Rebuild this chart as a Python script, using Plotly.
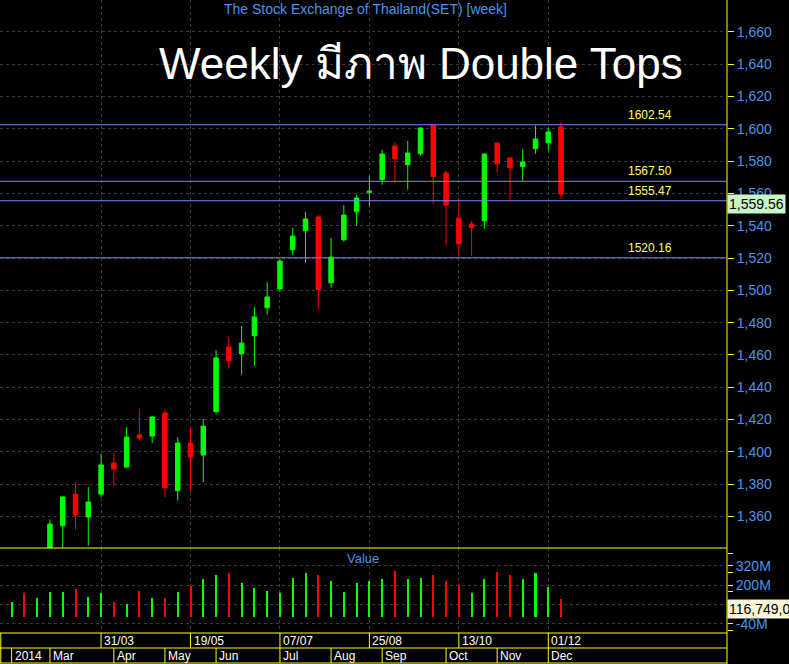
import plotly.graph_objects as go

# ---------------- data ----------------
weeks = ['2014-02-10', '2014-02-17', '2014-02-24', '2014-03-03', '2014-03-10', '2014-03-17',
         '2014-03-24', '2014-03-31', '2014-04-07', '2014-04-14', '2014-04-21', '2014-04-28',
         '2014-05-05', '2014-05-12', '2014-05-19', '2014-05-26', '2014-06-02', '2014-06-09',
         '2014-06-16', '2014-06-23', '2014-06-30', '2014-07-07', '2014-07-14', '2014-07-21',
         '2014-07-28', '2014-08-04', '2014-08-11', '2014-08-18', '2014-08-25', '2014-09-01',
         '2014-09-08', '2014-09-15', '2014-09-22', '2014-09-29', '2014-10-06', '2014-10-13',
         '2014-10-20', '2014-10-27', '2014-11-03', '2014-11-10', '2014-11-17', '2014-11-24',
         '2014-12-01', '2014-12-08']

opens = [1295, 1322, 1312, 1332, 1354.2, 1373.8, 1359.6, 1373.8, 1393.0, 1390.5, 1410.4, 1409.7,
         1424.0, 1375.9, 1405.4, 1398.0, 1424.8, 1464.9, 1460.7, 1471.9, 1489.2, 1500.8, 1525.1,
         1536.9, 1545.4, 1504.7, 1531.3, 1548.7, 1560.5, 1568.5, 1589.4, 1577.8, 1584.6, 1602.0,
         1572.7, 1544.8, 1541.1, 1543.1, 1591.2, 1581.9, 1576.6, 1587.7, 1591.4, 1601.2]
highs = [1318, 1328, 1338, 1358.1, 1372.5, 1381.1, 1378.1, 1398.6, 1399.2, 1415.3, 1426.5, 1422.1,
         1426.5, 1409.1, 1415.3, 1420.3, 1463.0, 1471.1, 1477.9, 1489.6, 1505.1, 1519.2, 1538.6,
         1548.5, 1546.6, 1532.4, 1552.8, 1559.0, 1571.0, 1586.9, 1591.9, 1592.5, 1601.0, 1602.54,
         1574.3, 1556.7, 1542.9, 1584.6, 1591.5, 1582.6, 1587.5, 1602.0, 1600.5, 1604.2]
lows = [1290, 1300, 1308, 1328, 1338, 1351.7, 1341.8, 1371.8, 1378.8, 1389.9, 1406.6, 1405.4,
        1372.0, 1369.7, 1375.9, 1381.2, 1423.6, 1451.4, 1447.7, 1453.3, 1484.9, 1499.0, 1522.0,
        1517.1, 1488.0, 1501.6, 1530.1, 1540.0, 1551.8, 1565.4, 1566.6, 1562.3, 1583.4, 1553.6,
        1528.2, 1520.16, 1521.4, 1538.2, 1572.8, 1556.1, 1567.9, 1584.6, 1586.5, 1556.7]
closes = [1312, 1305, 1333, 1355.2, 1372.0, 1360.8, 1368.9, 1391.8, 1389.3, 1409.1, 1408.5, 1421.5,
          1377.7, 1405.4, 1396.7, 1415.9, 1458.1, 1456.4, 1467.3, 1483.5, 1495.8, 1518.1, 1533.6,
          1544.2, 1500.4, 1520.6, 1546.6, 1557.2, 1561.5, 1584.4, 1581.5, 1585.0, 1600.5, 1570.4,
          1552.8, 1528.9, 1538.8, 1584.4, 1578.4, 1575.9, 1579.5, 1593.7, 1598.1, 1559.56]

value_m = [97, 154, 122, 160, 160, 179, 128, 154, 97, 84, 166, 122, 122, 160, 198, 242, 267, 274,
           217, 185, 166, 154, 248, 274, 267, 229, 160, 217, 229, 236, 286, 236, 248, 267, 229, 204,
           154, 242, 280, 267, 236, 274, 192, 116.749]

levels = [1602.54, 1567.50, 1555.47, 1520.16]
level_labels = ['1602.54', '1567.50', '1555.47', '1520.16']

grid_dates = ['2014-03-31', '2014-05-19', '2014-07-07', '2014-08-25', '2014-10-13', '2014-12-01']
grid_labels = ['31/03', '19/05', '07/07', '25/08', '13/10', '01/12']
month_dates = ['2014-02-10', '2014-03-03', '2014-04-07', '2014-05-05', '2014-06-02', '2014-07-07',
               '2014-08-04', '2014-09-01', '2014-10-06', '2014-11-03', '2014-12-01']
month_labels = ['2014', 'Mar', 'Apr', 'May', 'Jun', 'Jul', 'Aug', 'Sep', 'Oct', 'Nov', 'Dec']

price_ticks = list(range(1360, 1661, 20))
value_ticks_m = [320, 200, 80, -40]
value_tick_text = ['320M', '200M', '', '-40M']
value_minor_m = [400, 280, 160, 40, 0, -80]
last_price_text = '1,559.56'
last_value_text = '116,749,0'

# ---------------- styling ----------------
W, H = 789, 664
AX_X = 727 / W
P_BOT = 1 - 548 / H
V_BOT = 1 - 633 / H
R1_BOT = 1 - 648 / H
R2_BOT = 1 - 663 / H
GREEN = '#00ff00'
RED = '#ff0000'
YELLOW = '#ffff00'
BLUE_TXT = '#4d94e6'
GRID = '#3a3a3a'
FONT = 'Liberation Sans, Arial, sans-serif'
X_RANGE = ['2014-02-03 15:00', '2015-03-08 22:00']

vol_colors = [GREEN] + [GREEN if closes[i] >= closes[i - 1] else RED for i in range(1, len(closes))]

fig = go.Figure()
fig.add_trace(go.Candlestick(
    x=weeks, open=opens, high=highs, low=lows, close=closes,
    increasing=dict(line=dict(color=GREEN, width=1), fillcolor=GREEN),
    decreasing=dict(line=dict(color=RED, width=1), fillcolor=RED),
    whiskerwidth=0, xaxis='x', yaxis='y', hoverinfo='skip'))
fig.add_trace(go.Bar(
    x=weeks, y=[v * 1e6 for v in value_m], width=95e6,
    marker=dict(color=vol_colors, line=dict(width=0)),
    xaxis='x2', yaxis='y2', hoverinfo='skip'))

common_x = dict(type='date', range=X_RANGE, domain=[0, AX_X], showgrid=True,
                gridcolor=GRID, griddash='3px,3px', gridwidth=1,
                tickmode='array', tickvals=grid_dates, showticklabels=False,
                ticks='', zeroline=False, showline=False, fixedrange=True)

fig.update_layout(
    width=W, height=H, margin=dict(l=0, r=0, t=0, b=0),
    paper_bgcolor='#000000', plot_bgcolor='#000000',
    showlegend=False, boxgap=0.5, bargap=0,
    xaxis=dict(**common_x, anchor='y', rangeslider=dict(visible=False)),
    xaxis2=dict(**common_x, anchor='y2', matches='x'),
    yaxis=dict(domain=[P_BOT, 1], range=[1340.4, 1679.8], side='right', anchor='x',
               tickmode='array', tickvals=price_ticks, tickformat=',',
               ticks='outside', ticklen=6, tickcolor=YELLOW, tickwidth=1,
               tickfont=dict(family=FONT, size=14, color=BLUE_TXT),
               showgrid=True, gridcolor=GRID, griddash='3px,3px', zeroline=False, showline=False),
    yaxis2=dict(domain=[V_BOT, P_BOT], range=[-96.8e6, 431.8e6], side='right', anchor='x2',
                tickmode='array', tickvals=[v * 1e6 for v in value_ticks_m], ticktext=value_tick_text,
                ticks='outside', ticklen=5, tickcolor=YELLOW, tickwidth=1,
                tickfont=dict(family=FONT, size=14, color=BLUE_TXT),
                minor=dict(tickmode='array', tickvals=[v * 1e6 for v in value_minor_m],
                           ticks='outside', ticklen=5, tickcolor=YELLOW, showgrid=False),
                showgrid=True, gridcolor=GRID, griddash='3px,3px', zeroline=False, showline=False),
)

shapes = []
shapes.append(dict(type='line', xref='paper', yref='paper', x0=AX_X, x1=AX_X, y0=0, y1=1,
                   line=dict(color=YELLOW, width=1)))
for yy in [P_BOT, V_BOT, R1_BOT, R2_BOT]:
    shapes.append(dict(type='line', xref='paper', yref='paper', x0=0, x1=AX_X, y0=yy, y1=yy,
                       line=dict(color=YELLOW, width=1)))
shapes.append(dict(type='line', xref='paper', yref='paper', x0=0.001, x1=0.001, y0=R2_BOT, y1=V_BOT,
                   line=dict(color=YELLOW, width=1)))
for d in grid_dates:
    shapes.append(dict(type='line', xref='x', yref='paper', x0=d, x1=d, y0=R1_BOT, y1=V_BOT,
                       line=dict(color=YELLOW, width=1)))
for d in month_dates:
    shapes.append(dict(type='line', xref='x', yref='paper', x0=d, x1=d, y0=R2_BOT, y1=R1_BOT,
                       line=dict(color=YELLOW, width=1)))
for lv in levels:
    shapes.append(dict(type='line', xref='paper', yref='y', x0=0, x1=AX_X, y0=lv, y1=lv,
                       line=dict(color='#8080ff', width=1)))
fig.update_layout(shapes=shapes)

ann = []
ann.append(dict(text='The Stock Exchange of Thailand(SET) [week]', xref='paper', yref='paper',
                x=365 / W, y=1, yanchor='top', xanchor='center', yshift=1, showarrow=False,
                font=dict(family=FONT, size=14, color=BLUE_TXT)))
ann.append(dict(text='Weekly มีภาพ Double Tops', xref='paper', yref='paper',
                x=421 / W, y=1 - 64 / H, xanchor='center', yanchor='middle', showarrow=False,
                font=dict(family=FONT, size=44, color='#ffffff')))
ann.append(dict(text='Value', xref='paper', yref='paper', x=363 / W, y=1 - 558 / H,
                xanchor='center', yanchor='middle', showarrow=False,
                font=dict(family=FONT, size=13, color=BLUE_TXT)))
for lv, lt in zip(levels, level_labels):
    ann.append(dict(text=lt, xref='paper', yref='y', x=650 / W, y=lv, xanchor='center',
                    yanchor='bottom', yshift=1, showarrow=False,
                    font=dict(family=FONT, size=12, color='#ffff66')))
ann.append(dict(text=last_price_text, xref='paper', yref='y', x=AX_X, y=closes[-1],
                xanchor='left', yanchor='top', showarrow=False, bgcolor='#c8f5c8',
                borderpad=1, font=dict(family=FONT, size=14, color='#000000')))
ann.append(dict(text=last_value_text, xref='paper', yref='y2', x=AX_X, y=value_m[-1] * 1e6,
                xanchor='left', yanchor='top', showarrow=False, bgcolor='#fdf5d8',
                borderpad=1, font=dict(family=FONT, size=14, color='#000000')))
for d, t in zip(grid_dates, grid_labels):
    ann.append(dict(text=t, xref='x', yref='paper', x=d, y=(R1_BOT + V_BOT) / 2, xanchor='left',
                    yanchor='middle', xshift=1, showarrow=False,
                    font=dict(family=FONT, size=12, color='#ffffff')))
for d, t in zip(month_dates, month_labels):
    ann.append(dict(text=t, xref='x', yref='paper', x=d, y=(R2_BOT + R1_BOT) / 2, xanchor='left',
                    yanchor='middle', xshift=1, showarrow=False,
                    font=dict(family=FONT, size=12, color='#ffffff')))
fig.update_layout(annotations=ann)

fig.write_html('out.html', config={'displayModeBar': False, 'staticPlot': True},
               post_script="document.body.style.margin='0';document.body.style.padding='0';"
                           "document.documentElement.style.overflow='hidden';")
